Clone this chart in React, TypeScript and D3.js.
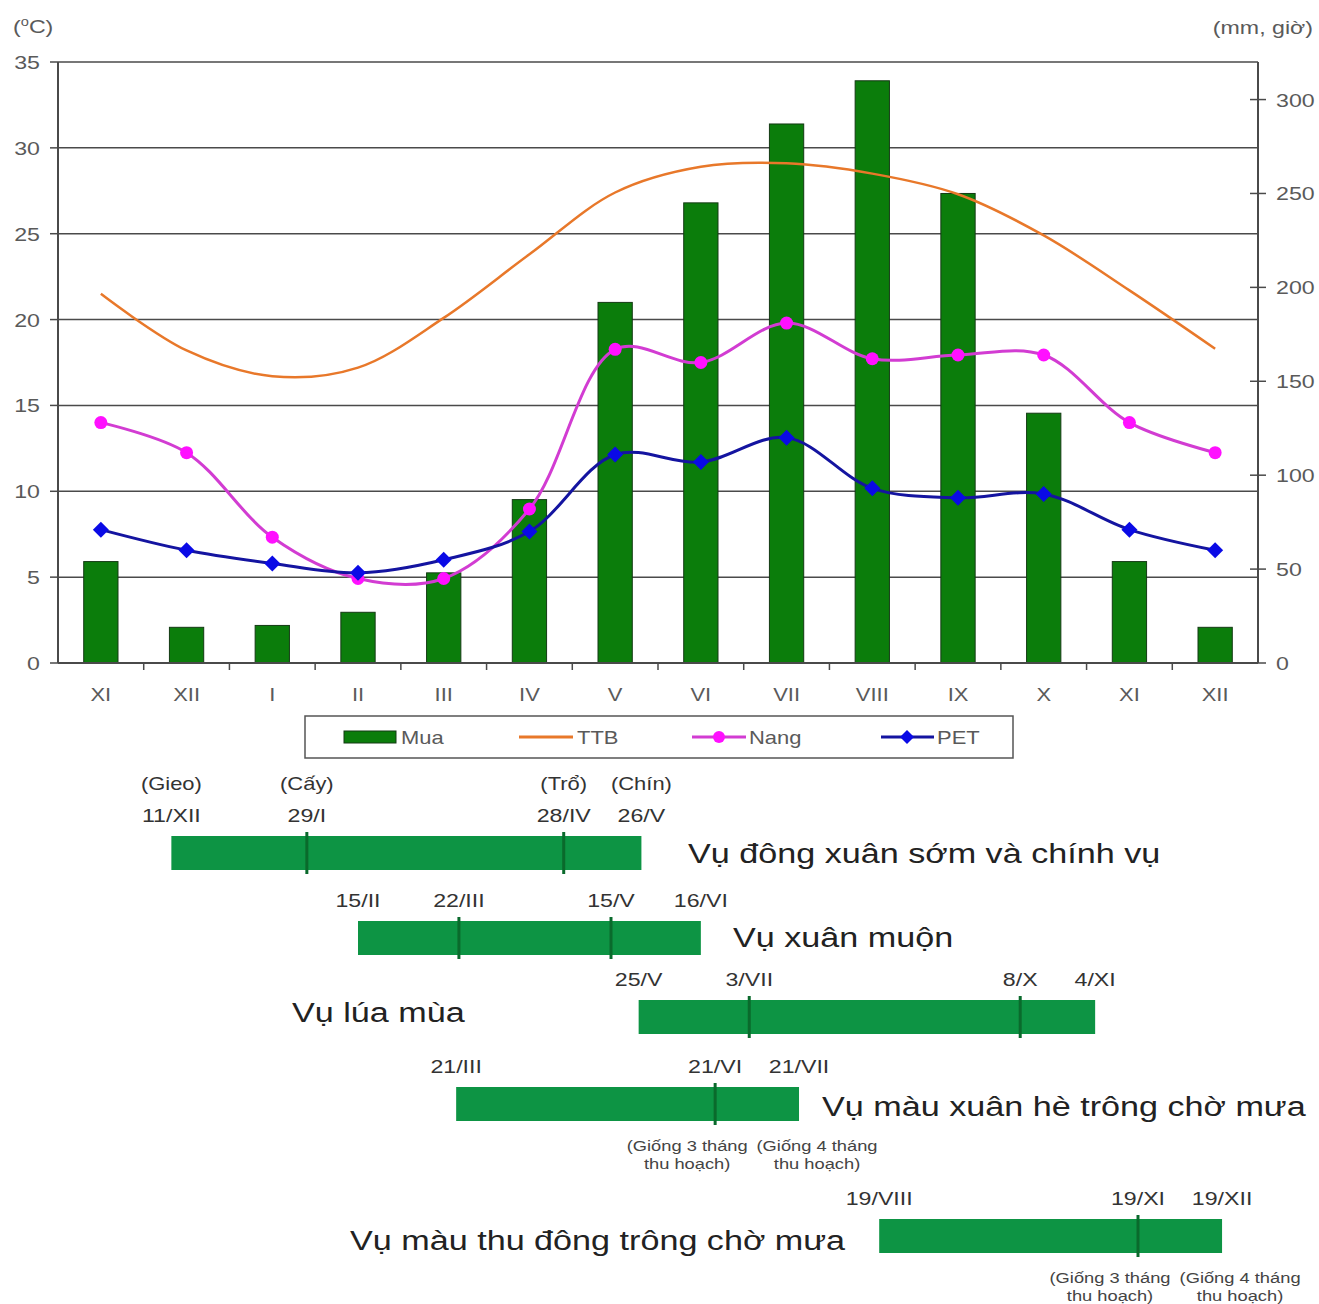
import React from 'react';
import * as d3 from 'd3';

// ---------- DATA ----------
const months = ['XI', 'XII', 'I', 'II', 'III', 'IV', 'V', 'VI', 'VII', 'VIII', 'IX', 'X', 'XI', 'XII'];
const mua = [54, 19, 20, 27, 48, 87, 192, 245, 287, 310, 250, 133, 54, 19]; // mm (right axis)
const ttb = [21.5, 18.2, 16.7, 17.2, 20.1, 23.8, 27.4, 28.9, 29.1, 28.5, 27.3, 24.9, 21.7, 18.3]; // °C (left axis)
const nang = [128, 112, 67, 45, 45, 82, 167, 160, 181, 162, 164, 164, 128, 112]; // giờ (right axis)
const pet = [71, 60, 53, 48, 55, 70, 111, 107, 120, 93, 88, 90, 71, 60]; // mm (right axis)
const leftTicks = [0, 5, 10, 15, 20, 25, 30, 35];
const rightTicks = [0, 50, 100, 150, 200, 250, 300];
const legendItems = ['Mua', 'TTB', 'Nang', 'PET'];
const daysInMonth: Record<string, number> = {
  I: 31, II: 28, III: 31, IV: 30, V: 31, VI: 30, VII: 31, VIII: 31, IX: 30, X: 31, XI: 30, XII: 31,
};

const cropNames = [
  'Vụ đông xuân sớm và chính vụ',
  'Vụ xuân muộn',
  'Vụ lúa mùa',
  'Vụ màu xuân hè trông chờ mưa',
  'Vụ màu thu đông trông chờ mưa',
];
const cropDates = [
  ['11/XII', '29/I', '28/IV', '26/V'],
  ['15/II', '22/III', '15/V', '16/VI'],
  ['25/V', '3/VII', '8/X', '4/XI'],
  ['21/III', '21/VI', '21/VII'],
  ['19/VIII', '19/XI', '19/XII'],
];
const stageLabels = [['(Gieo)', '(Cấy)', '(Trổ)', '(Chín)'], [], [], [], []];
const harvestNotes = [
  [], [], [],
  [null, ['(Giống 3 tháng', 'thu hoạch)'], ['(Giống 4 tháng', 'thu hoạch)']],
  [null, ['(Giống 3 tháng', 'thu hoạch)'], ['(Giống 4 tháng', 'thu hoạch)']],
];

// ---------- LAYOUT ----------
const W = 1319, H = 1304;
const plot = { left: 58, right: 1258, top: 62, bottom: 663 };
const FONT = '"Liberation Sans", Arial, sans-serif';
const SX = 1.22; // horizontal stretch of the text in the original picture
const cropLayout = [
  { barTop: 836, nameX: 688, nameY: 863 },
  { barTop: 921, nameX: 733, nameY: 947 },
  { barTop: 1000, nameX: 292, nameY: 1022 },
  { barTop: 1087, nameX: 822, nameY: 1116 },
  { barTop: 1219, nameX: 350, nameY: 1250 },
];
const BAR_H = 34;

const Txt = ({ x, y, sx = SX, children, ...rest }: any) => (
  <text transform={`translate(${x},${y}) scale(${sx},1)`} {...rest}>{children}</text>
);

export default function App() {
  const idx = months.map((_, i) => i);
  const xBand = d3.scaleBand<number>().domain(idx).range([plot.left, plot.right]).padding(0);
  const bw = xBand.bandwidth();
  const xc = (i: number) => (xBand(i) as number) + bw / 2;
  const xTime = d3.scaleLinear().domain([0, months.length]).range([plot.left, plot.right]);
  const yL = d3.scaleLinear().domain([0, 35]).range([plot.bottom, plot.top]);
  const yR = d3.scaleLinear().domain([0, 320]).range([plot.bottom, plot.top]);
  const barW = bw * 0.4;

  const curve = d3.curveCatmullRom.alpha(0.5);
  const lineL = d3.line<number>().x((_, i) => xc(i)).y((d) => yL(d)).curve(curve);
  const lineR = d3.line<number>().x((_, i) => xc(i)).y((d) => yR(d)).curve(curve);

  const resolveDates = (dates: string[]) => {
    let prev = 0;
    return dates.map((s) => {
      const [dayStr, m] = s.split('/');
      const day = +dayStr;
      let k = prev;
      while (k < months.length && months[k] !== m) k++;
      prev = k;
      return xTime(k + (day - 1) / daysInMonth[m]);
    });
  };

  const diamond = (cx: number, cy: number, r: number) =>
    `M${cx},${cy - r}L${cx + r},${cy}L${cx},${cy + r}L${cx - r},${cy}Z`;

  const axisColor = '#4a4a4a';
  const tickText = '#5a5a5a';
  const green = '#0b7d0b';
  const ganttGreen = '#0d9444';
  const ganttMark = '#0a6a2c';

  return (
    <svg width={W} height={H} style={{ position: 'absolute', left: 0, top: 0, background: '#fff' }} fontFamily={FONT}>
      <rect x={0} y={0} width={W} height={H} fill="#fff" />
      {/* axis titles */}
      <Txt x={13} y={33} fontSize={19} fill={tickText}>
        (<tspan fontSize={12} dy={-7}>o</tspan><tspan dy={7}>C)</tspan>
      </Txt>
      <Txt x={1313} y={34} fontSize={19} fill={tickText} textAnchor="end">(mm, giờ)</Txt>

      {/* gridlines */}
      {leftTicks.map((t) => (
        <line key={'g' + t} x1={plot.left} x2={plot.right} y1={yL(t)} y2={yL(t)} stroke={axisColor} strokeWidth={1.5} />
      ))}

      {/* bars */}
      {mua.map((v, i) => (
        <rect key={'b' + i} x={xc(i) - barW / 2} y={yR(v)} width={barW} height={plot.bottom - yR(v)}
          fill={green} stroke="#143a14" strokeWidth={1} />
      ))}

      {/* axes */}
      <line x1={plot.left} x2={plot.left} y1={plot.top} y2={plot.bottom} stroke={axisColor} strokeWidth={2} />
      <line x1={plot.right} x2={plot.right} y1={plot.top} y2={plot.bottom} stroke={axisColor} strokeWidth={2} />
      <line x1={plot.left} x2={plot.right} y1={plot.bottom} y2={plot.bottom} stroke={axisColor} strokeWidth={2} />
      {leftTicks.map((t) => (
        <g key={'lt' + t}>
          <line x1={plot.left - 8} x2={plot.left} y1={yL(t)} y2={yL(t)} stroke={axisColor} strokeWidth={1.5} />
          <Txt x={40} y={yL(t) + 7} fontSize={19} fill={tickText} textAnchor="end">{t}</Txt>
        </g>
      ))}
      {rightTicks.map((t) => (
        <g key={'rt' + t}>
          <line x1={plot.right - 8} x2={plot.right + 8} y1={yR(t)} y2={yR(t)} stroke={axisColor} strokeWidth={1.5} />
          <Txt x={1276} y={yR(t) + 7} fontSize={19} fill={tickText}>{t}</Txt>
        </g>
      ))}
      {idx.slice(1).map((i) => (
        <line key={'xt' + i} x1={xBand(i)} x2={xBand(i)} y1={plot.bottom} y2={plot.bottom + 7} stroke={axisColor} strokeWidth={1.5} />
      ))}
      {months.map((m, i) => (
        <Txt key={'xl' + i} x={xc(i)} y={701} fontSize={18} fill={tickText} textAnchor="middle">{m}</Txt>
      ))}

      {/* lines */}
      <path d={lineL(ttb) || ''} fill="none" stroke="#e8782a" strokeWidth={2.5} />
      <path d={lineR(nang) || ''} fill="none" stroke="#d23cd2" strokeWidth={3} />
      {nang.map((v, i) => (
        <circle key={'n' + i} cx={xc(i)} cy={yR(v)} r={6.5} fill="#ff10ff" />
      ))}
      <path d={lineR(pet) || ''} fill="none" stroke="#1414a0" strokeWidth={3} />
      {pet.map((v, i) => (
        <path key={'p' + i} d={diamond(xc(i), yR(v), 8)} fill="#0a0ae6" />
      ))}

      {/* legend */}
      <rect x={305} y={716} width={708} height={42} fill="#fff" stroke="#555" strokeWidth={1.5} />
      <rect x={344} y={731} width={52} height={12} fill={green} stroke="#143a14" strokeWidth={1} />
      <Txt x={401} y={744} fontSize={18} fill={tickText}>{legendItems[0]}</Txt>
      <line x1={519} x2={573} y1={737} y2={737} stroke="#e8782a" strokeWidth={3} />
      <Txt x={577} y={744} fontSize={18} fill={tickText}>{legendItems[1]}</Txt>
      <line x1={692} x2={746} y1={737} y2={737} stroke="#d23cd2" strokeWidth={3} />
      <circle cx={719} cy={737} r={6} fill="#ff10ff" />
      <Txt x={749} y={744} fontSize={18} fill={tickText}>{legendItems[2]}</Txt>
      <line x1={881} x2={934} y1={737} y2={737} stroke="#1414a0" strokeWidth={3} />
      <path d={diamond(907, 737, 7)} fill="#0a0ae6" />
      <Txt x={937} y={744} fontSize={18} fill={tickText}>{legendItems[3]}</Txt>

      {/* crop calendar */}
      {cropDates.map((dates, ci) => {
        const xs = resolveDates(dates);
        const L = cropLayout[ci];
        const x0 = xs[0], x1 = xs[xs.length - 1];
        return (
          <g key={'c' + ci}>
            <rect x={x0} y={L.barTop} width={x1 - x0} height={BAR_H} fill={ganttGreen} />
            {xs.slice(1, -1).map((x, k) => (
              <line key={'m' + k} x1={x} x2={x} y1={L.barTop - 4} y2={L.barTop + BAR_H + 4} stroke={ganttMark} strokeWidth={3} />
            ))}
            {dates.map((d, k) => (
              <Txt key={'d' + k} x={xs[k]} y={L.barTop - 14} fontSize={19} fill="#333" textAnchor="middle">{d}</Txt>
            ))}
            {stageLabels[ci].map((s, k) => (
              <Txt key={'s' + k} x={xs[k]} y={L.barTop - 46} fontSize={18} fill="#333" textAnchor="middle">{s}</Txt>
            ))}
            {(harvestNotes[ci] as any[]).map((note, k) =>
              note ? (
                <g key={'h' + k}>
                  <Txt x={xs[k] + (k === 1 ? -28 : 18)} y={L.barTop + BAR_H + 30} fontSize={15} fill="#444" textAnchor="middle">{note[0]}</Txt>
                  <Txt x={xs[k] + (k === 1 ? -28 : 18)} y={L.barTop + BAR_H + 48} fontSize={15} fill="#444" textAnchor="middle">{note[1]}</Txt>
                </g>
              ) : null
            )}
            <Txt x={L.nameX} y={L.nameY} fontSize={28} fill="#222">{cropNames[ci]}</Txt>
          </g>
        );
      })}
    </svg>
  );
}
